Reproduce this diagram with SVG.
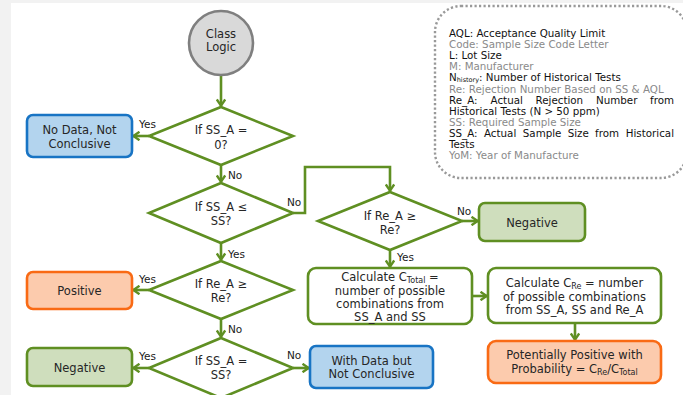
<svg xmlns="http://www.w3.org/2000/svg" width="683" height="395" viewBox="0 0 683 395">
<style>
text{font-family:"DejaVu Sans","Liberation Sans",sans-serif;fill:#262626}
.n{font-size:11.5px;text-anchor:middle}
.lbl{font-size:10.5px;fill:#1a1a1a}
.lg{font-size:10.3px}
.blk{fill:#111}
.gry{fill:#8a8a8a}
.dia{fill:#fff;stroke:#5f8f22;stroke-width:2.6;stroke-linejoin:miter}
.box{stroke-width:2.6}
.blue{fill:#b3d4ee;stroke:#1874c4}
.org{fill:#fccbad;stroke:#f96a14}
.grn{fill:#cfdebd;stroke:#5f8f22}
.wht{fill:#fff;stroke:#5f8f22}
.con{fill:none;stroke:#5f8f22;stroke-width:2.6;marker-end:url(#ah)}
</style>
<defs>
<marker id="ah" viewBox="0 0 10 10" refX="9" refY="5" markerWidth="10" markerHeight="10" markerUnits="userSpaceOnUse" orient="auto">
<path d="M2.5,0.8 L8.6,5 L2.5,9.2" fill="none" stroke="#5f8f22" stroke-width="2.4"/>
</marker>
</defs>
<rect x="0" y="0" width="683" height="395" fill="#f2f2f2"/>
<rect x="11" y="3" width="672" height="392" fill="#fff"/>

<g id="legend">
<rect x="435" y="6" width="252" height="172" rx="26" fill="none" stroke="#999" stroke-width="2.4" stroke-dasharray="2.2 2.3"/>
<text class="lg blk" x="449" y="37">AQL: Acceptance Quality Limit</text>
<text class="lg gry" x="449" y="48">Code: Sample Size Code Letter</text>
<text class="lg blk" x="449" y="59">L: Lot Size</text>
<text class="lg gry" x="449" y="70">M: Manufacturer</text>
<text class="lg blk" x="449" y="81">N<tspan font-size="6.5" dy="1">history</tspan><tspan dy="-1">: Number of Historical Tests</tspan></text>
<text class="lg gry" x="449" y="93">Re: Rejection Number Based on SS &amp; AQL</text>
<text class="lg blk" y="104"><tspan x="449">Re_A:</tspan><tspan x="490.6">Actual</tspan><tspan x="535.5">Rejection</tspan><tspan x="596">Number</tspan><tspan x="674" text-anchor="end">from</tspan></text>
<text class="lg blk" x="449" y="115">Historical Tests (N &gt; 50 ppm)</text>
<text class="lg gry" x="449" y="126">SS: Required Sample Size</text>
<text class="lg blk" y="137"><tspan x="449">SS_A:</tspan><tspan x="484">Actual</tspan><tspan x="522.8">Sample</tspan><tspan x="567.7">Size</tspan><tspan x="595.1">from</tspan><tspan x="674" text-anchor="end">Historical</tspan></text>
<text class="lg blk" x="449" y="148">Tests</text>
<text class="lg gry" x="449" y="159">YoM: Year of Manufacture</text>
</g>

<g id="connectors">
<path class="con" d="M221,75 V106"/>
<path class="con" d="M149,136 H133"/>
<path class="con" d="M221,165 V182"/>
<path class="con" d="M293,213 H305 V167 H390 V191"/>
<path class="con" d="M221,243 V260"/>
<path class="con" d="M462,221 H478"/>
<path class="con" d="M390,250 V267"/>
<path class="con" d="M149,290 H133"/>
<path class="con" d="M221,319 V337"/>
<path class="con" d="M472,296 H487"/>
<path class="con" d="M575,323 V340"/>
<path class="con" d="M149,368 H133"/>
<path class="con" d="M293,368 H309"/>
<text class="lbl" x="139" y="128">Yes</text>
<text class="lbl" x="228" y="179">No</text>
<text class="lbl" x="287" y="206">No</text>
<text class="lbl" x="228" y="257.5">Yes</text>
<text class="lbl" x="139" y="283">Yes</text>
<text class="lbl" x="228" y="332.5">No</text>
<text class="lbl" x="139" y="360">Yes</text>
<text class="lbl" x="287" y="359">No</text>
<text class="lbl" x="457" y="215">No</text>
<text class="lbl" x="397" y="261">Yes</text>
</g>

<g id="start">
<circle cx="221" cy="43" r="32" fill="#d9d9d9" stroke="#7f7f7f" stroke-width="2.6"/>
<text class="n" x="221" y="37.5">Class</text>
<text class="n" x="221" y="51">Logic</text>
</g>

<g id="d1">
<polygon class="dia" points="221,107 293,136 221,165 149,136"/>
<text class="n" x="221" y="134">If SS_A =</text>
<text class="n" x="221" y="148.5">0?</text>
</g>

<g id="nodata">
<rect class="box blue" x="27" y="115" width="105" height="42" rx="6"/>
<text class="n" x="79.5" y="133.5">No Data, Not</text>
<text class="n" x="79.5" y="148">Conclusive</text>
</g>

<g id="d2">
<polygon class="dia" points="221,183 293,213 221,243 149,213"/>
<text class="n" x="221" y="211">If SS_A ≤</text>
<text class="n" x="221" y="225">SS?</text>
</g>

<g id="d3">
<polygon class="dia" points="390,192 462,221 390,250 318,221"/>
<text class="n" x="390" y="220">If Re_A ≥</text>
<text class="n" x="390" y="234">Re?</text>
</g>

<g id="neg-right">
<rect class="box grn" x="479" y="203" width="106" height="38" rx="6"/>
<text class="n" x="532" y="226.5">Negative</text>
</g>

<g id="calc-total">
<rect class="box wht" x="308" y="268" width="164" height="56" rx="8"/>
<text class="n" x="390" y="281">Calculate C<tspan font-size="8" dy="2">Total</tspan><tspan dy="-2"> =</tspan></text>
<text class="n" x="390" y="294.5">number of possible</text>
<text class="n" x="390" y="308">combinations from</text>
<text class="n" x="390" y="321">SS_A and SS</text>
</g>

<g id="calc-re">
<rect class="box wht" x="488" y="268" width="173" height="55" rx="8"/>
<text class="n" x="574.5" y="287">Calculate C<tspan font-size="8" dy="2">Re</tspan><tspan dy="-2"> = number</tspan></text>
<text class="n" x="574.5" y="300.5">of possible combinations</text>
<text class="n" x="574.5" y="314">from SS_A, SS and Re_A</text>
</g>

<g id="potential">
<rect class="box org" x="488" y="341" width="173" height="42" rx="8"/>
<text class="n" x="574.5" y="359">Potentially Positive with</text>
<text class="n" x="574.5" y="373">Probability = C<tspan font-size="8" dy="2">Re</tspan><tspan dy="-2">/C</tspan><tspan font-size="8" dy="2">Total</tspan></text>
</g>

<g id="d4">
<polygon class="dia" points="221,261 293,290 221,319 149,290"/>
<text class="n" x="221" y="288">If Re_A ≥</text>
<text class="n" x="221" y="301.5">Re?</text>
</g>

<g id="positive">
<rect class="box org" x="27" y="272" width="105" height="37" rx="6"/>
<text class="n" x="79.5" y="295">Positive</text>
</g>

<g id="d5">
<polygon class="dia" points="221,338 293,368 221,398 149,368"/>
<text class="n" x="221" y="365">If SS_A =</text>
<text class="n" x="221" y="379">SS?</text>
</g>

<g id="neg-left">
<rect class="box grn" x="27" y="348" width="105" height="38" rx="6"/>
<text class="n" x="79.5" y="372">Negative</text>
</g>

<g id="withdata">
<rect class="box blue" x="310" y="346" width="123" height="42" rx="6"/>
<text class="n" x="371.5" y="365">With Data but</text>
<text class="n" x="371.5" y="378">Not Conclusive</text>
</g>
</svg>
